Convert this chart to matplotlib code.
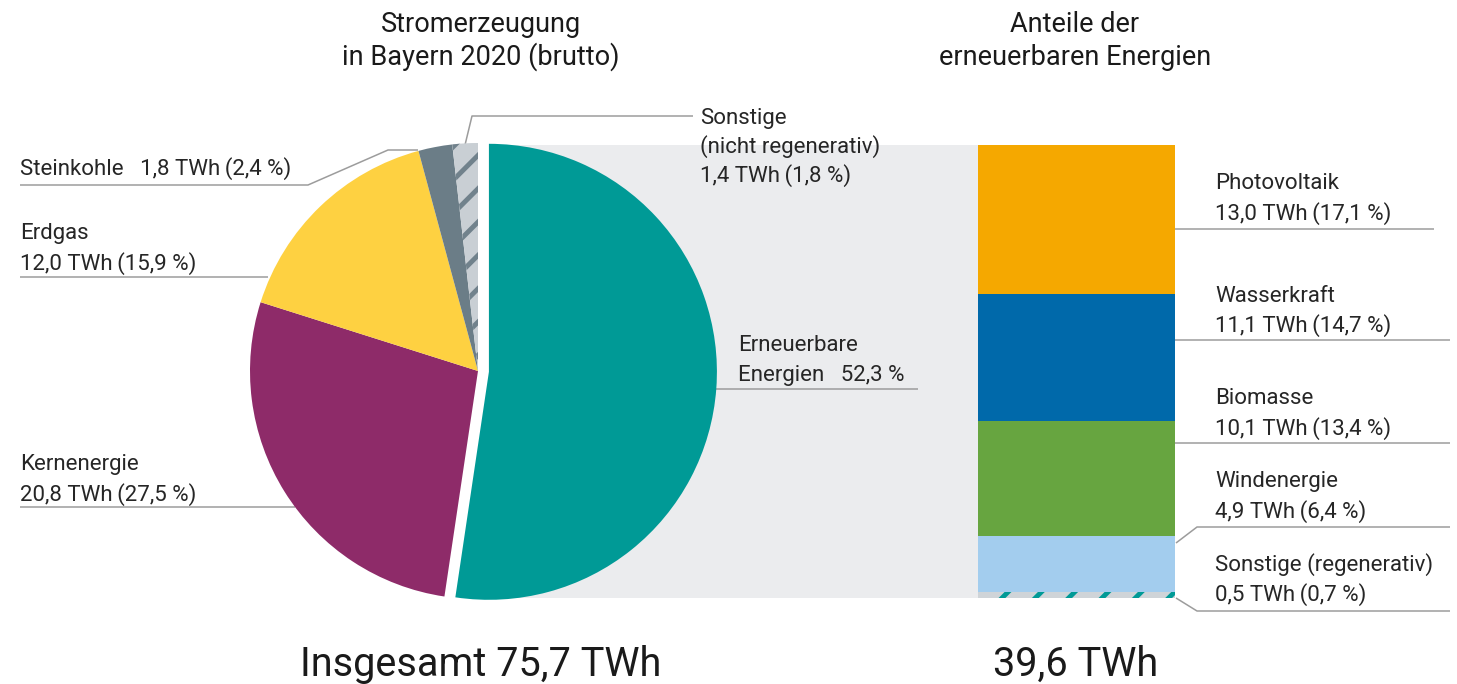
import numpy as np
import matplotlib
matplotlib.use('Agg')
import matplotlib.pyplot as plt
from matplotlib.patches import Rectangle

plt.rcParams['font.family'] = ['Roboto', 'DejaVu Sans']
plt.rcParams['hatch.linewidth'] = 3.5

# Stromerzeugung in Bayern 2020 (brutto), im Uhrzeigersinn ab 12 Uhr
mix_labels = ['Erneuerbare Energien', 'Kernenergie', 'Erdgas', 'Steinkohle',
              'Sonstige (nicht regenerativ)']
mix_twh = [39.6, 20.8, 12.0, 1.8, 1.4]
mix_pct = [52.3, 27.5, 15.9, 2.4, 1.8]
mix_colors = ['#009a96', '#8e2b69', '#fed141', '#6b7d87', '#c9cfd4']

# Anteile der erneuerbaren Energien, von oben nach unten
ee_labels = ['Photovoltaik', 'Wasserkraft', 'Biomasse', 'Windenergie',
             'Sonstige (regenerativ)']
ee_twh = [13.0, 11.1, 10.1, 4.9, 0.5]
ee_pct = [17.1, 14.7, 13.4, 6.4, 0.7]
ee_colors = ['#f5a800', '#0069aa', '#67a540', '#a3cdee', '#cfd4d8']

total = 75.7
ee_total = 39.6

TXT = '#262626'
LINE = '#9c9c9c'
W, H = 1457, 684


def de(v):
    return f'{v:.1f}'.replace('.', ',')


def val(twh, pct):
    return f'{de(twh)} TWh\u2009({de(pct)} %)'


fig = plt.figure(figsize=(W / 100, H / 100), dpi=100)

# Hintergrund-Achse in Pixelkoordinaten (y nach unten)
bg = fig.add_axes([0, 0, 1, 1])
bg.set_xlim(0, W)
bg.set_ylim(H, 0)
bg.axis('off')

# grauer Verbindungsbereich zwischen Torte und Balken
bg.add_patch(Rectangle((489, 145), 978 - 489, 453, color='#ebecee', lw=0, zorder=0))

# Torte
cx, cy, r = 478, 371, 228
pax = fig.add_axes([(cx - r) / W, (H - cy - r) / H, 2 * r / W, 2 * r / H])
wedges, _ = pax.pie(mix_pct, startangle=90, counterclock=False, colors=mix_colors,
                    explode=[0.048, 0, 0, 0, 0], wedgeprops=dict(linewidth=0))
wedges[4].set_hatch('/')
wedges[4].set_edgecolor('#71828c')
wedges[4].set_linewidth(0)
pax.set_xlim(-1, 1)
pax.set_ylim(-1, 1)
pax.axis('off')

# gestapelter Balken der Erneuerbaren
bax = fig.add_axes([978 / W, (H - 598) / H, 197 / W, 453 / H])
bottom = 0
for lab, v, c in reversed(list(zip(ee_labels, ee_twh, ee_colors))):
    b = bax.bar(0, v, width=1, bottom=bottom, color=c, linewidth=0)
    if lab.startswith('Sonstige'):
        b[0].set_hatch('/')
        b[0].set_edgecolor('#009a96')
        b[0].set_linewidth(0)
    bottom += v
bax.set_xlim(-0.5, 0.5)
bax.set_ylim(0, sum(ee_twh))
bax.axis('off')

fs = 16


def label(x, ys, lines, **kw):
    for y, s in zip(ys, lines):
        bg.text(x, y, s, fontsize=fs, color=TXT, va='baseline', ha='left', **kw)


def leader(xs, ys):
    bg.plot(xs, ys, color=LINE, lw=1.1, solid_capstyle='butt', zorder=1)


# Beschriftungen links
label(20, [175], [f'Steinkohle   {val(mix_twh[3], mix_pct[3])}'])
leader([20, 308, 388, 418], [185, 185, 150, 150])

label(20, [239, 270], [mix_labels[2], val(mix_twh[2], mix_pct[2])])
leader([20, 268], [277, 277])

label(20, [470, 501], [mix_labels[1], val(mix_twh[1], mix_pct[1])])
leader([20, 295], [507, 507])

label(700, [124, 153, 182], ['Sonstige', '(nicht regenerativ)', val(mix_twh[4], mix_pct[4])])
leader([465, 472, 693], [145, 116, 116])

label(738, [351, 381], ['Erneuerbare', f'Energien   {de(mix_pct[0])} %'])
leader([714, 918], [389, 389])

# Beschriftungen rechts
rx = 1215
label(rx, [189, 220], [ee_labels[0], val(ee_twh[0], ee_pct[0])])
leader([1175, 1434], [229, 229])
label(rx, [302, 332], [ee_labels[1], val(ee_twh[1], ee_pct[1])])
leader([1175, 1450], [340, 340])
label(rx, [404, 435], [ee_labels[2], val(ee_twh[2], ee_pct[2])])
leader([1175, 1450], [443, 443])
label(rx, [487, 518], [ee_labels[3], val(ee_twh[3], ee_pct[3])])
leader([1176, 1197, 1450], [543, 527, 527])
label(rx, [571, 601], [ee_labels[4], val(ee_twh[4], ee_pct[4])])
leader([1176, 1197, 1450], [598, 611, 611])

# Titel
tfs = 19.5
for x, y, s in [(481, 32, 'Stromerzeugung'), (481, 65, 'in Bayern 2020 (brutto)'),
                (1075, 32, 'Anteile der'), (1075, 65, 'erneuerbaren Energien')]:
    bg.text(x, y, s, fontsize=tfs, color='#1a1a1a', ha='center', va='baseline')

# Summen
bg.text(481, 676, f'Insgesamt {de(total)} TWh', fontsize=28.5, color='#1a1a1a',
        ha='center', va='baseline')
bg.text(1076, 676, f'{de(ee_total)} TWh', fontsize=28.5, color='#1a1a1a',
        ha='center', va='baseline')

fig.savefig('out.png', dpi=100, facecolor='white')
